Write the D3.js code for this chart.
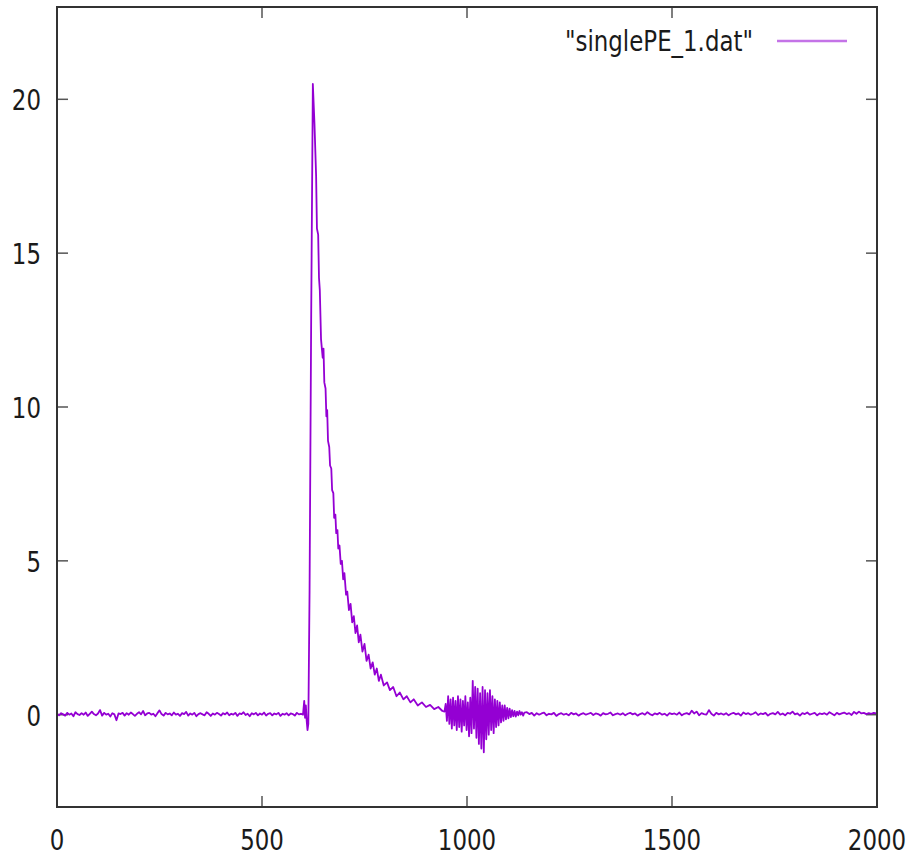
<!DOCTYPE html>
<html>
<head>
<meta charset="utf-8">
<script src="https://cdn.jsdelivr.net/npm/d3@7"></script>
<style>
  body { margin: 0; background: #fff; }
  text { font-family: "DejaVu Sans", sans-serif; fill: #1a1a1a; }
</style>
</head>
<body>
<div id="chart"></div>
<script>
(function(){

var width = 914,
	height = 859,
	left = 57,
	right = 877,
	top = 7,
	bottom = 807,
	squeeze = 0.79; // the reference glyphs look horizontally condensed

// tick values
var xTicks = [0, 500, 1000, 1500, 2000];
var yTicks = [0, 5, 10, 15, 20];

var seriesName = '"singlePE_1.dat"';

// baseline before the pulse, one sample every 5 ns starting at 0
var preStep = 5;
var preValues = [0.03,-0.02,0.05,0.01,-0.03,0.06,0.0,0.04,-0.05,0.08,0.02,-0.01,0.05,0.0,0.07,-0.04,0.03,0.1,0.02,-0.02,
	0.04,0.15,-0.03,0.06,0.0,0.03,-0.06,0.05,0.01,-0.18,0.04,0.02,0.06,-0.03,0.05,0.0,0.07,0.02,-0.04,0.03,
	0.08,0.01,0.12,-0.02,0.04,0.06,0.0,0.03,-0.05,0.05,0.14,0.02,-0.03,0.06,0.01,0.04,-0.02,0.07,0.0,0.03,
	-0.04,0.05,0.02,0.09,-0.03,0.04,0.0,0.06,-0.05,0.02,0.05,0.01,-0.02,0.08,0.03,-0.04,0.04,0.0,0.06,0.02,
	-0.03,0.05,0.01,0.07,-0.02,0.03,0.0,0.06,-0.04,0.04,0.02,0.08,-0.01,0.03,-0.05,0.05,0.01,0.06,-0.02,0.04,
	0.0,0.07,-0.03,0.03,0.05,-0.02,0.04,0.01,0.06,-0.04,0.03,0.0,0.05,-0.02,0.04,0.02,-0.03,0.06,0.01,0.03,0.0];

// the pulse itself and its decay, read point by point
var pulseX = [600,603,605,607,609,611,613,616,620,624,628,632,634,637,639,641,644,648,650,652,655,657,659,
	661,664,666,669,671,674,676,679,681,684,686,689,692,695,698,701,705,708,712,716,720,724,728,732,
	736,740,745,750,755,760,765,770,775,780,785,790,797,805,812,820,828,836,845,853,862,870,880,890,
	900,910,920,930,940];
var pulseY = [0.05,0.45,-0.1,0.3,-0.2,-0.5,-0.3,4,13,20.5,19.2,17.5,15.8,15.6,14.2,13.8,12.2,11.6,11.9,10.8,10.6,9.7,9.9,
	8.9,8.7,8.1,8.0,7.3,7.2,6.4,6.5,5.9,6.0,5.4,5.5,4.9,5.0,4.4,4.6,3.9,4.0,3.4,3.6,3.0,3.2,2.65,2.9,
	2.35,2.6,2.05,2.3,1.75,1.95,1.5,1.7,1.3,1.5,1.1,1.3,0.95,1.05,0.8,0.9,0.6,0.72,0.5,0.6,0.4,0.5,0.3,0.4,
	0.25,0.32,0.18,0.25,0.12];

// ringing burst around 1000, one sample every 3 ns from 945
var ringStart = 945, ringStep = 3;
var ringValues = [0.1,0.35,-0.2,0.6,-0.3,0.5,-0.45,0.55,-0.35,0.45,-0.5,0.6,-0.4,0.5,-0.55,0.45,-0.35,0.6,-0.5,0.4,
	-0.7,0.55,-0.6,1.1,-0.45,0.9,-0.75,0.85,-0.95,0.7,-1.1,0.9,-1.22,0.8,-0.8,0.7,-0.65,0.8,-0.5,0.6,
	-0.6,0.5,-0.4,0.45,-0.35,0.4,-0.25,0.3,-0.2,0.3,-0.15,0.22,-0.12,0.2,-0.08,0.15,-0.05,0.12,-0.06,0.1,
	-0.02,0.12,0.0,0.08,-0.03,0.07];

// quiet tail, one sample every 6 ns from 1146
var tailStart = 1146, tailStep = 6;
var tailValues = [0.08,0.02,0.06,-0.03,0.05,0.0,0.04,0.07,-0.02,0.03,0.01,0.06,-0.04,0.02,0.05,0.0,0.03,-0.02,0.06,0.01,
	0.04,-0.03,0.02,0.05,0.0,0.03,0.06,-0.01,0.04,0.02,-0.03,0.05,0.01,0.03,0.07,-0.02,0.02,0.04,0.0,0.05,
	-0.02,0.03,0.06,0.01,0.04,-0.03,0.02,0.05,0.0,0.08,0.02,-0.02,0.04,0.01,0.06,0.0,0.03,-0.03,0.05,0.02,
	0.04,0.0,0.07,-0.02,0.03,0.05,0.01,0.13,0.04,0.1,-0.02,0.05,0.02,0.0,0.15,0.03,-0.03,0.06,0.01,0.04,
	0.0,0.05,-0.02,0.03,0.06,0.01,0.04,-0.03,0.07,0.02,0.05,0.0,0.03,0.08,-0.01,0.04,0.02,0.06,-0.03,0.03,
	0.05,0.01,0.09,0.0,0.04,-0.02,0.06,0.03,0.1,0.01,0.04,-0.03,0.05,0.02,0.07,0.0,0.03,0.06,-0.02,0.04,
	0.02,0.05,0.0,0.08,0.03,-0.02,0.06,0.01,0.04,0.07,0.02,0.05,-0.01,0.09,0.03,0.1,0.04,0.06,0.02,0.05,0.03,0.06,0.04];

var points = [];
preValues.forEach(function(v,i){ points.push([i*preStep, v]); });
pulseX.forEach(function(x,i){ if (x > points[points.length-1][0]) points.push([x, pulseY[i]]); });
ringValues.forEach(function(v,i){ points.push([ringStart + i*ringStep, v]); });
tailValues.forEach(function(v,i){
	var x = tailStart + i*tailStep;
	if (x <= 2000) points.push([x, v]);
});

var svg = d3.select("#chart").append("svg")
	.attr("width", width)
	.attr("height", height);

var X = d3.scaleLinear().domain([0,2000]).range([left,right]);
var Y = d3.scaleLinear().domain([-3,23]).range([bottom,top]);

var tickLen = 11;

// ticks on all four sides, pointing inward
var tk = svg.append("g").attr("stroke","#555").attr("stroke-width",1.5);
xTicks.forEach(function(t){
	tk.append("line").attr("x1",X(t)).attr("x2",X(t)).attr("y1",bottom).attr("y2",bottom-tickLen);
	tk.append("line").attr("x1",X(t)).attr("x2",X(t)).attr("y1",top).attr("y2",top+tickLen);
});
yTicks.forEach(function(t){
	tk.append("line").attr("x1",left).attr("x2",left+tickLen).attr("y1",Y(t)).attr("y2",Y(t));
	tk.append("line").attr("x1",right).attr("x2",right-tickLen).attr("y1",Y(t)).attr("y2",Y(t));
});

// tick labels
svg.selectAll(".xlab").data(xTicks).enter().append("text")
	.attr("class","xlab")
	.attr("transform",function(d){ return "translate("+X(d)+","+(bottom+43)+") scale("+squeeze+",1)"; })
	.attr("text-anchor","middle")
	.style("font-size","29px")
	.text(function(d){ return d; });

svg.selectAll(".ylab").data(yTicks).enter().append("text")
	.attr("class","ylab")
	.attr("transform",function(d){ return "translate(41,"+(Y(d)+11)+") scale("+squeeze+",1)"; })
	.attr("text-anchor","end")
	.style("font-size","29px")
	.text(function(d){ return d; });

// the trace
var line = d3.line()
	.x(function(d){ return X(d[0]); })
	.y(function(d){ return Y(d[1]); });

svg.append("path")
	.datum(points)
	.attr("d", line)
	.attr("fill","none")
	.attr("stroke","#9400d3")
	.attr("stroke-width",1.8)
	.attr("stroke-linejoin","round");

// border
svg.append("rect")
	.attr("x",left).attr("y",top)
	.attr("width",right-left).attr("height",bottom-top)
	.attr("fill","none")
	.attr("stroke","#333")
	.attr("stroke-width",2);

// key
svg.append("text")
	.attr("transform","translate(753,51) scale("+squeeze+",1)")
	.attr("text-anchor","end")
	.style("font-size","29px")
	.text(seriesName);

svg.append("line")
	.attr("x1",777).attr("x2",847).attr("y1",41).attr("y2",41)
	.attr("stroke","#9400d3")
	.attr("stroke-opacity",0.55)
	.attr("stroke-width",2.5);

})()
</script>
</body>
</html>
